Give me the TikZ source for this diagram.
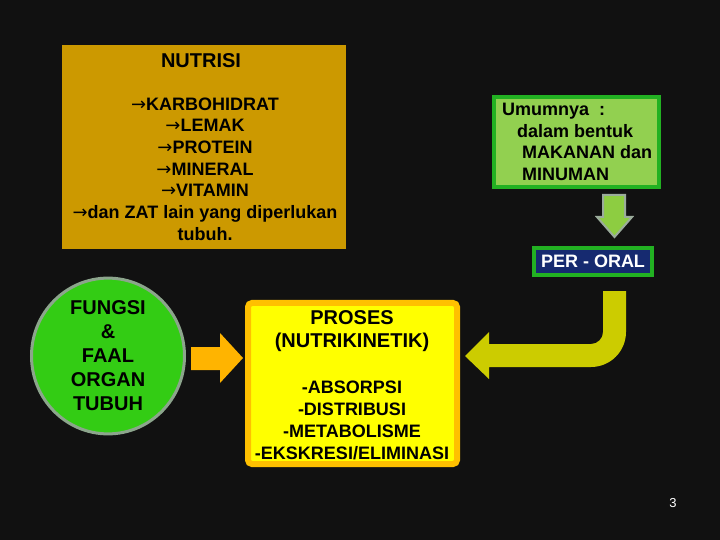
\documentclass[tikz,border=0pt]{standalone}
\usepackage{fontspec}
\setmainfont{Liberation Sans}
\newfontfamily\arrowfont{DejaVu Sans}
\usepackage{xcolor}
\usepackage{tikz}
\usetikzlibrary{shapes.geometric, positioning}

\definecolor{slidebg}{RGB}{17,17,17}
\definecolor{nutrigold}{RGB}{204,153,0}
\definecolor{leafgreen}{RGB}{146,208,80}
\definecolor{edgegreen}{RGB}{34,177,34}
\definecolor{oralnavy}{RGB}{22,42,112}
\definecolor{ballgreen}{RGB}{51,204,20}
\definecolor{ballrim}{RGB}{140,165,140}
\definecolor{procyellow}{RGB}{255,255,0}
\definecolor{procorange}{RGB}{255,192,0}
\definecolor{arroworange}{RGB}{255,180,0}
\definecolor{bentyellow}{RGB}{204,204,0}
\definecolor{downgreen}{RGB}{141,205,65}
\definecolor{downrim}{RGB}{155,172,155}

\newcommand{\itemarrow}{{\arrowfont\mdseries →}}

\begin{document}
\begin{tikzpicture}[x=1bp, y=-1bp,
    panel/.style={rectangle, inner sep=0pt, outer sep=0pt},
    headtxt/.style={inner sep=0pt, align=center, font=\fontsize{20bp}{23bp}\selectfont\bfseries},
    bodytxt/.style={inner sep=0pt, align=center, font=\fontsize{18bp}{21.7bp}\selectfont\bfseries},
]

% Slide background
\fill[slidebg] (0,0) rectangle (720,540);
\useasboundingbox (0,0) rectangle (720,540);

% Nutrition box, top left
\node[panel, fill=nutrigold, minimum width=284bp, minimum height=204bp] (nutri) at (204,147) {};
\node[headtxt] (nutrititle) at (201,61) {NUTRISI};
\node[bodytxt] (nutrilist) at (205,169) {\itemarrow KARBOHIDRAT\\\itemarrow LEMAK\\\itemarrow PROTEIN\\\itemarrow MINERAL\\\itemarrow VITAMIN\\\itemarrow dan ZAT lain yang diperlukan\\tubuh.};

% Intake box and oral route
\node[panel, fill=leafgreen, draw=edgegreen, line width=4bp, minimum width=165bp, minimum height=90bp] (intake) at (576.5,142) {};
\node[bodytxt, align=left, anchor=west] (intaketext) at (502,142) {Umumnya\ \ :\\\hspace*{15bp}dalam bentuk\\\hspace*{20bp}MAKANAN dan\\\hspace*{20bp}MINUMAN};
\node[panel, fill=oralnavy, draw=edgegreen, line width=3.5bp, minimum width=118bp, minimum height=27bp, text=white, font=\fontsize{18bp}{21bp}\selectfont\bfseries] (oral) at (593,261.5) {PER - ORAL};

% Organ function circle
\node[ellipse, fill=ballgreen, draw=ballrim, line width=3bp, inner sep=0pt, minimum width=153bp, minimum height=143bp, align=center, font=\fontsize{20bp}{24bp}\selectfont\bfseries] (organ) at (108,356) {FUNGSI\\\&\\FAAL\\ORGAN\\TUBUH};

% Process box
\node[panel, fill=procyellow, draw=procorange, line width=6bp, rounded corners=4bp, minimum width=209bp, minimum height=161bp] (proses) at (352.5,383.5) {};
\node[headtxt] (prosestitle) at (352,331.5) {PROSES\\(NUTRIKINETIK)};
\node[bodytxt, font=\fontsize{18bp}{22bp}\selectfont\bfseries] (proseslist) at (352,420) {-ABSORPSI\\-DISTRIBUSI\\-METABOLISME\\-EKSKRESI/ELIMINASI};

% Block arrows
\filldraw[fill=downgreen, draw=downrim, line width=2bp] (603,195) -- (625,195) -- (625,217) -- (632,217) -- (614.5,237) -- (597,217) -- (603,217) -- cycle;
\fill[arroworange] (191,347) -- (220,347) -- (220,333) -- (243,358) -- (220,383) -- (220,370) -- (191,370) -- cycle;
\fill[bentyellow] (603,291) -- (603,332) arc[start angle=0, end angle=90, radius=12] -- (489,344) -- (489,332) -- (465,356) -- (489,379) -- (489,367) -- (591,367) arc[start angle=90, end angle=0, radius=35] -- (626,291) -- cycle;

% Page number
\node[text=white, inner sep=0pt, font=\fontsize{13bp}{15bp}\selectfont] (pagenum) at (673,503) {3};

\end{tikzpicture}
\end{document}
